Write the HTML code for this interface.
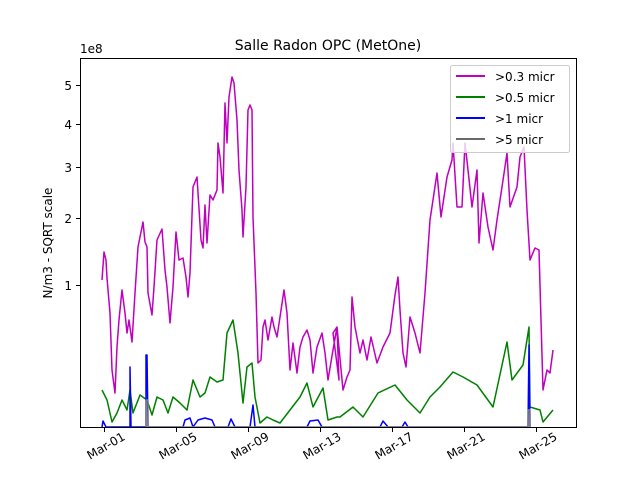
<!DOCTYPE html>
<html><head><meta charset="utf-8"><style>body{margin:0;background:#fff}svg{display:block}text{font-family:"DejaVu Sans","Liberation Sans",sans-serif;fill:#000}</style></head><body>
<svg width="640" height="480" viewBox="0 0 640 480" xmlns="http://www.w3.org/2000/svg">
<rect width="640" height="480" fill="#fff"/>
<text x="328" y="50" font-size="14" text-anchor="middle">Salle Radon OPC (MetOne)</text>
<text x="80" y="53" font-size="12">1e8</text>
<g fill="none" stroke-width="1.5" stroke-linejoin="round">
<polyline stroke="#bf00bf" points="102,280 104,252 106,260 107,278 110,313 112,370 115,393 117,347 119,320 122,290 125,313 127,333 129,320 132,342 135,293 138,247 143,222 145,242 147,247 148,293 152,315 154,287 157,240 162,229 165,270 167,287 170,323 173,287 176,232 179,260 183,258 186,277 188,297 190,273 193,187 197,177 201,240 203,248 205,205 207,243 210,195 213,200 217,190 218,143 220,157 223,193 225,103 227,143 229,97 232,77 234,83 237,120 239,170 242,210 243,237 246,187 248,110 250,105 252,110 253,217 256,293 258,363 261,360 263,327 265,320 268,340 272,317 274,327 277,337 280,317 284,290 287,313 290,370 293,343 297,373 300,347 303,337 307,330 310,340 313,373 317,347 322,333 325,353 328,380 333,350 337,327 339,380 333,333 337,327 343,390 347,377 350,370 352,297 355,327 360,353 363,340 367,360 371,337 377,363 383,347 390,333 395,295 398,277 400,310 403,353 406,367 410,317 415,333 420,353 425,293 430,220 433,200 437,173 441,217 447,177 452,160 453,143 457,207 462,207 465,143 468,170 472,207 477,170 479,243 483,193 488,227 493,250 497,220 502,187 507,153 510,207 517,187 520,157 524,147 527,210 530,260 535,248 539,250 543,390 547,370 550,373 553,350"/>
<polyline stroke="#008000" points="102,390 107,400 112,422 117,413 122,400 127,410 130,390 133,413 140,395 147,400 152,415 157,397 163,400 168,413 173,397 180,403 187,410 193,380 200,397 205,393 210,377 217,382 223,380 227,333 233,320 238,353 243,403 247,367 252,363 255,397 260,423 267,417 273,420 280,423 290,410 300,397 307,383 313,407 323,388 328,420 337,417 340,417 353,407 363,417 378,393 395,385 407,400 420,413 430,397 440,387 453,372 463,377 477,385 493,407 507,342 512,380 523,365 529,327 530,407 540,410 543,422 553,410"/>
<polyline stroke="#0000ff" points="102,427 103,421 106,427 130,427 130,367 131,427 146,427 146,355 147,355 148,427 183,427 185,420 190,418 193,427 198,420 205,418 212,420 215,427 228,427 231,419 235,427 250,427 253,405 255,427 307,427 310,421 318,420 322,427 380,427 383,421 388,427 402,427 405,422 408,427 528,427 529,345 530,427"/>
<polyline stroke="#808080" points="146,427 146,400 148,400 148,427 528,427 528,410 530,410 530,427"/>
</g>
<rect x="80.5" y="58.5" width="496" height="369" fill="none" stroke="#000" stroke-width="1"/>
<g stroke="#000" stroke-width="1">
<line x1="80" y1="285.5" x2="76" y2="285.5"/><line x1="80" y1="218.5" x2="76" y2="218.5"/><line x1="80" y1="167.5" x2="76" y2="167.5"/><line x1="80" y1="124.5" x2="76" y2="124.5"/><line x1="80" y1="85.5" x2="76" y2="85.5"/>
<line x1="104.5" y1="428" x2="104.5" y2="432"/><line x1="176.5" y1="428" x2="176.5" y2="432"/><line x1="248.5" y1="428" x2="248.5" y2="432"/><line x1="320.5" y1="428" x2="320.5" y2="432"/><line x1="392.5" y1="428" x2="392.5" y2="432"/><line x1="464.5" y1="428" x2="464.5" y2="432"/><line x1="536.5" y1="428" x2="536.5" y2="432"/>
</g>
<g font-size="12" text-anchor="end">
<text x="72" y="290">1</text><text x="72" y="223">2</text><text x="72" y="172">3</text><text x="72" y="129">4</text><text x="72" y="90">5</text>
</g>
<g font-size="12" text-anchor="middle">
<text transform="translate(106,446) rotate(-30)" dy="4">Mar-01</text>
<text transform="translate(178,446) rotate(-30)" dy="4">Mar-05</text>
<text transform="translate(250,446) rotate(-30)" dy="4">Mar-09</text>
<text transform="translate(322,446) rotate(-30)" dy="4">Mar-13</text>
<text transform="translate(394,446) rotate(-30)" dy="4">Mar-17</text>
<text transform="translate(466,446) rotate(-30)" dy="4">Mar-21</text>
<text transform="translate(538,446) rotate(-30)" dy="4">Mar-25</text>
</g>
<text transform="translate(52,243) rotate(-90)" font-size="12" text-anchor="middle">N/m3 - SQRT scale</text>
<rect x="450.5" y="65.5" width="119" height="87" rx="2" fill="#fff" fill-opacity="0.8" stroke="#ccc"/>
<g stroke-width="2">
<line x1="456" y1="76" x2="485" y2="76" stroke="#bf00bf"/>
<line x1="456" y1="97" x2="485" y2="97" stroke="#008000"/>
<line x1="456" y1="118" x2="485" y2="118" stroke="#0000ff"/>
<line x1="456" y1="139" x2="485" y2="139" stroke="#696969"/>
</g>
<g font-size="12">
<text x="495" y="81">&gt;0.3 micr</text><text x="495" y="102">&gt;0.5 micr</text><text x="495" y="123">&gt;1 micr</text><text x="495" y="144">&gt;5 micr</text>
</g>
</svg>
</body></html>
